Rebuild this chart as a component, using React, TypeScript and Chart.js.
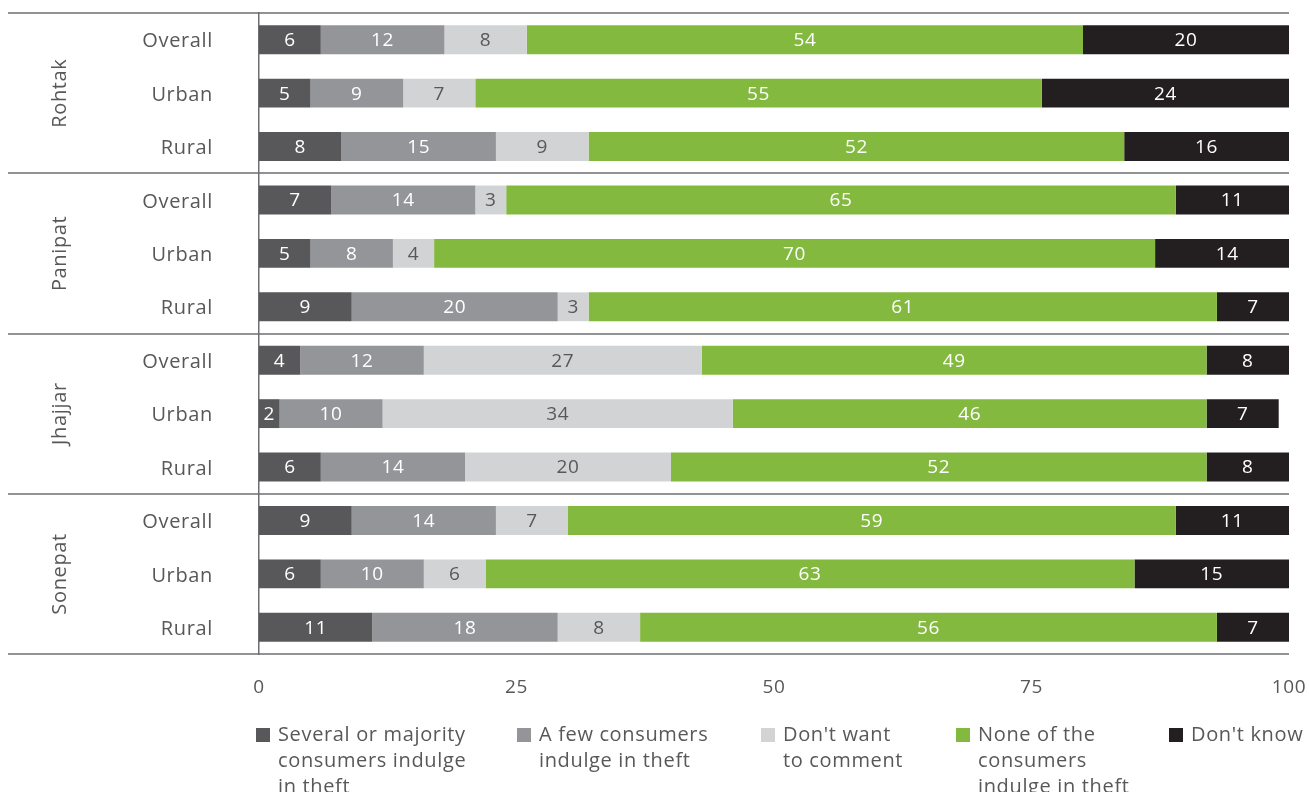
import React, { useEffect, useRef } from "react";
import { Chart, registerables } from "chart.js";

Chart.register(...registerables);

const districts = ["Rohtak", "Panipat", "Jhajjar", "Sonepat"];
const rowLabels = [
  "Overall", "Urban", "Rural",
  "Overall", "Urban", "Rural",
  "Overall", "Urban", "Rural",
  "Overall", "Urban", "Rural",
];
const several = [6, 5, 8, 7, 5, 9, 4, 2, 6, 9, 6, 11];
const few = [12, 9, 15, 14, 8, 20, 12, 10, 14, 14, 10, 18];
const noComment = [8, 7, 9, 3, 4, 3, 27, 34, 20, 7, 6, 8];
const noneTheft = [54, 55, 52, 65, 70, 61, 49, 46, 52, 59, 63, 56];
const dontKnow = [20, 24, 16, 11, 14, 7, 8, 7, 8, 11, 15, 7];
const xTicks = [0, 25, 50, 75, 100];

const seriesNames = [
  ["Several or majority", "consumers indulge", "in theft"],
  ["A few consumers", "indulge in theft"],
  ["Don't want", "to comment"],
  ["None of the", "consumers", "indulge in theft"],
  ["Don't know"],
];
const seriesColors = ["#58585a", "#939598", "#d1d3d4", "#84b93f", "#231f20"];
const labelColors = ["#ffffff", "#ffffff", "#58585a", "#ffffff", "#ffffff"];
const legendLeft = [256, 517, 761, 956, 1169];

const FONT = "'Open Sans', 'Noto Sans', sans-serif";
const TEXT = "#58585a";
const SPACING = "0.65px";

const spacingPlugin = {
  id: "spacing",
  beforeInit(chart: any) {
    chart.ctx.letterSpacing = SPACING;
  },
  beforeLayout(chart: any) {
    chart.ctx.letterSpacing = SPACING;
  },
  beforeDraw(chart: any) {
    chart.ctx.letterSpacing = SPACING;
  },
};

const overlayPlugin = {
  id: "overlay",
  afterDatasetsDraw(chart: any) {
    const ctx = chart.ctx;
    const area = chart.chartArea;
    ctx.save();
    ctx.font = `19px ${FONT}`;
    ctx.textAlign = "center";
    ctx.textBaseline = "middle";
    chart.data.datasets.forEach((ds: any, di: number) => {
      const meta = chart.getDatasetMeta(di);
      meta.data.forEach((bar: any, i: number) => {
        const v = ds.data[i];
        const cx = (bar.base + bar.x) / 2;
        ctx.fillStyle = labelColors[di];
        ctx.fillText(String(v), cx, bar.y + 1);
      });
    });
    ctx.restore();

    ctx.save();
    ctx.strokeStyle = "#6d6e71";
    ctx.lineWidth = 1.5;
    const n = rowLabels.length;
    const per = n / districts.length;
    const rowH = (area.bottom - area.top) / n;
    for (let g = 0; g <= districts.length; g++) {
      const y = Math.round(area.top + g * per * rowH);
      ctx.beginPath();
      ctx.moveTo(8, y);
      ctx.lineTo(area.right, y);
      ctx.stroke();
    }
    ctx.fillStyle = TEXT;
    ctx.font = `20px ${FONT}`;
    ctx.textAlign = "center";
    ctx.textBaseline = "middle";
    districts.forEach((d, g) => {
      const yc = area.top + (g * per + per / 2) * rowH;
      ctx.save();
      ctx.translate(60, yc);
      ctx.rotate(-Math.PI / 2);
      ctx.fillText(d, 0, 0);
      ctx.restore();
    });
    ctx.restore();
  },
};

export default function App() {
  const ref = useRef<HTMLCanvasElement>(null);
  useEffect(() => {
    if (!ref.current) return;
    const values = [several, few, noComment, noneTheft, dontKnow];
    const chart = new Chart(ref.current, {
      type: "bar",
      data: {
        labels: rowLabels,
        datasets: values.map((arr, i) => ({
          label: seriesNames[i].join(" "),
          data: arr,
          backgroundColor: seriesColors[i],
          borderWidth: 0,
          barPercentage: 0.54,
          categoryPercentage: 1,
        })),
      },
      options: {
        indexAxis: "y",
        responsive: false,
        animation: false,
        layout: { padding: { top: 13, right: 20, left: 0, bottom: 0 } },
        plugins: { legend: { display: false }, tooltip: { enabled: false } },
        scales: {
          x: {
            stacked: true,
            min: 0,
            max: 100,
            afterBuildTicks: (scale: any) => {
              scale.ticks = xTicks.map((v) => ({ value: v }));
            },
            grid: { display: false, drawTicks: false },
            border: { display: false },
            ticks: {
              padding: 22,
              color: TEXT,
              font: { family: FONT, size: 19 },
              maxRotation: 0,
            },
            afterFit: (scale: any) => {
              scale.height = 138;
              scale.paddingLeft = 0;
              scale.paddingRight = 0;
              scale.paddingTop = 0;
              scale.paddingBottom = 0;
            },
          },
          y: {
            stacked: true,
            grid: { display: false, drawTicks: false },
            border: { display: true, color: "#6d6e71", width: 1.5 },
            ticks: {
              padding: 46,
              labelOffset: 2,
              color: TEXT,
              font: { family: FONT, size: 20 },
              autoSkip: false,
            },
            afterFit: (scale: any) => {
              scale.width = 259;
              scale.paddingLeft = 0;
              scale.paddingRight = 0;
              scale.paddingTop = 0;
              scale.paddingBottom = 0;
            },
          },
        },
      },
      plugins: [spacingPlugin, overlayPlugin],
    });
    return () => chart.destroy();
  }, []);

  return (
    <div style={{ position: "absolute", left: 0, top: 0, width: 1309, height: 792, background: "#fff" }}>
      <canvas ref={ref} width={1309} height={792} style={{ width: 1309, height: 792, display: "block" }} />
      {seriesNames.map((lines, i) => (
        <div
          key={i}
          style={{
            position: "absolute",
            left: legendLeft[i],
            top: 721,
            display: "flex",
            alignItems: "flex-start",
            fontFamily: FONT,
            fontSize: 20,
            letterSpacing: SPACING,
            lineHeight: "26px",
            color: TEXT,
          }}
        >
          <div style={{ width: 14, height: 14, background: seriesColors[i], marginTop: 7, marginRight: 8, flex: "none" }} />
          <div style={{ whiteSpace: "nowrap" }}>
            {lines.map((l, j) => (
              <div key={j}>{l}</div>
            ))}
          </div>
        </div>
      ))}
    </div>
  );
}
